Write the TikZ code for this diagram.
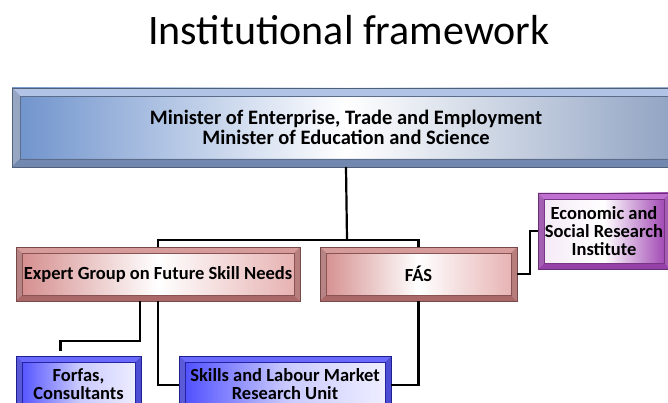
\documentclass[tikz,border=0pt]{standalone}
\usepackage{fontspec}
\setmainfont{Carlito}
\definecolor{tbev}{HTML}{8FAADA}
\definecolor{tl}{HTML}{6E92CC}
\definecolor{tr}{HTML}{8FA2C2}
\definecolor{rbev}{HTML}{C97A7A}
\definecolor{rl}{HTML}{D48A8A}
\definecolor{rr}{HTML}{E6AFAF}
\definecolor{pbev}{HTML}{B04CC4}
\definecolor{pl}{HTML}{F4E8F6}
\definecolor{pr}{HTML}{9A3AAE}
\definecolor{bbev}{HTML}{3838FF}
\definecolor{bl}{HTML}{4A4AFF}
\definecolor{br}{HTML}{F0F0FF}
\newcommand\bevelbox[4][6pt]{%
 \fill[#3] (#2.north west) -- (#2.north east) -- ([xshift=-#1,yshift=-#1]#2.north east) -- ([xshift=#1,yshift=-#1]#2.north west) -- cycle;
 \fill[#3!85!black] (#2.north west) -- ([xshift=#1,yshift=-#1]#2.north west) -- ([xshift=#1,yshift=#1]#2.south west) -- (#2.south west) -- cycle;
 \fill[#4] (#2.south west) -- (#2.south east) -- ([xshift=-#1,yshift=#1]#2.south east) -- ([xshift=#1,yshift=#1]#2.south west) -- cycle;
 \fill[#4!85!white] (#2.north east) -- ([xshift=-#1,yshift=-#1]#2.north east) -- ([xshift=-#1,yshift=#1]#2.south east) -- (#2.south east) -- cycle;
 \draw[#4!70!black, line width=0.7pt] (#2.north west) rectangle (#2.south east);
 \draw[#4!80!black, line width=0.5pt] ([xshift=#1,yshift=-#1]#2.north west) rectangle ([xshift=-#1,yshift=#1]#2.south east);
}
\tikzset{
 box/.style={inner sep=0pt, outer sep=0pt, align=center, text=black},
 topbox/.style={box, left color=tl, right color=tr, middle color=white, font=\bfseries\fontsize{20.5}{20.5}\selectfont},
 redbox/.style={box, left color=rl, right color=rr, middle color=white, font=\bfseries\fontsize{18.5}{18.5}\selectfont},
 purbox/.style={box, left color=pl, right color=pr, middle color=white, font=\bfseries\fontsize{18.5}{18}\selectfont},
 bluebox/.style={box, left color=bl, right color=br, middle color=bl!30!white, font=\bfseries\fontsize{18.5}{18.5}\selectfont},
 conn/.style={line width=2.2pt, black}
}
\begin{document}
\begin{tikzpicture}[x=1pt,y=-1pt]
\useasboundingbox (0,0) rectangle (668,403);
\clip (0,0) rectangle (668,403);
\node[font=\fontsize{42}{45}\selectfont] (title) at (349,30) {Institutional framework};
\node[topbox, minimum width=668pt, minimum height=79pt] (top) at (346,127.5) {Minister of Enterprise, Trade and Employment\\Minister of Education and Science};
\node[redbox, minimum width=284pt, minimum height=54pt] (expert) at (158,274) {Expert Group on Future Skill Needs};
\node[redbox, minimum width=197pt, minimum height=54pt] (fas) at (418.5,274) {FÁS};
\node[purbox, minimum width=132pt, minimum height=76pt] (esri) at (604,231) {Economic and\\Social Research\\Institute};
\node[bluebox, minimum width=125pt, minimum height=56pt] (forfas) at (78.5,384) {Forfas,\\Consultants};
\node[bluebox, minimum width=212pt, minimum height=56pt] (skills) at (285,384) {Skills and Labour Market\\Research Unit};
\bevelbox[8pt]{top}{tbev!70!white}{tbev!80!black}
\bevelbox{expert}{rbev!75!white}{rbev!85!black}
\bevelbox{fas}{rbev!75!white}{rbev!85!black}
\bevelbox{esri}{pbev!80!white}{pbev!85!black}
\bevelbox{forfas}{bbev!75!white}{bbev!80!black}
\bevelbox{skills}{bbev!75!white}{bbev!80!black}
\coordinate (j) at (347,240);
\draw[conn] (top.south) -- (j);
\draw[conn] (expert.north) |- (j) -| (fas.north);
\draw[conn] (fas.east) -- ++(13,0) |- (esri.west);
\draw[conn] ([xshift=-18pt]expert.south) -- ++(0,40) -| ([xshift=-18pt,yshift=5pt]forfas.north);
\draw[conn] (expert.south) |- ([yshift=-1pt]skills.west);
\draw[conn] (fas.south) |- ([yshift=-1pt]skills.east);
\end{tikzpicture}
\end{document}
